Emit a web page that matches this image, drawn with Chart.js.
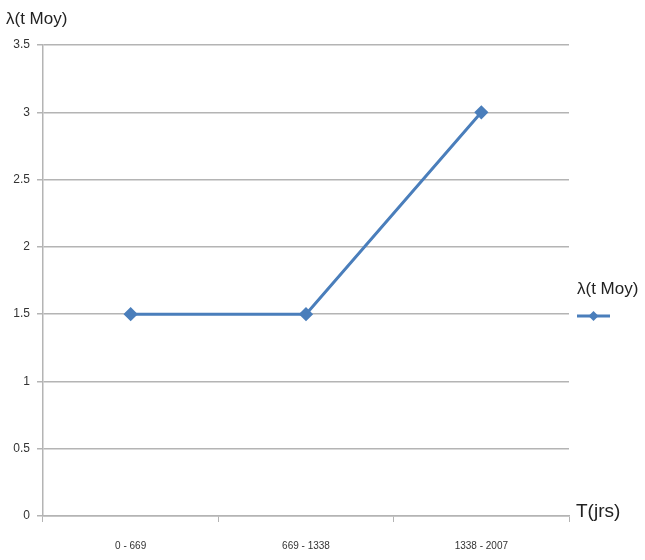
<!DOCTYPE html>
<html>
<head>
<meta charset="utf-8">
<script src="https://cdn.jsdelivr.net/npm/chart.js@4/dist/chart.umd.min.js"></script>
<style>
  html, body { margin: 0; padding: 0; background: #fff; }
  #wrap { width: 645px; height: 560px; }
</style>
</head>
<body>
<div id="wrap"><canvas id="chart" width="645" height="560"></canvas></div>
<script>
// ─── Data ─────────────────────────────────────────────────────────────────────
const periods = ['0 - 669', '669 - 1338', '1338 - 2007'];
const lambdaMoy = [1.5, 1.5, 3];
const seriesName = 'λ(t Moy)';
const yAxisTitle = 'λ(t Moy)';
const xAxisTitle = 'T(jrs)';

const lineColor = '#4a7ebb';
const gridColor = '#b4b4b4';

// ─── Axis titles and side legend ──────────────────────────────────────────────
const annotations = {
  id: 'annotations',
  afterDraw(chart) {
    const { ctx, chartArea } = chart;
    ctx.save();
    ctx.fillStyle = '#222';
    ctx.textBaseline = 'middle';
    ctx.textAlign = 'left';
    ctx.font = '17px "Liberation Sans Narrow", "Liberation Sans", sans-serif';
    ctx.fillText(yAxisTitle, 6, 19);
    ctx.fillText(seriesName, chartArea.right + 8, 289);
    ctx.font = '19px "Liberation Sans Narrow", "Liberation Sans", sans-serif';
    ctx.fillText(xAxisTitle, chartArea.right + 7, chartArea.bottom - 4);

    // legend sample: line with diamond marker
    const y = 316, x0 = chartArea.right + 8, x1 = chartArea.right + 41;
    ctx.strokeStyle = lineColor;
    ctx.lineWidth = 3;
    ctx.beginPath();
    ctx.moveTo(x0, y);
    ctx.lineTo(x1, y);
    ctx.stroke();
    const cx = (x0 + x1) / 2, r = 5;
    ctx.fillStyle = lineColor;
    ctx.beginPath();
    ctx.moveTo(cx, y - r);
    ctx.lineTo(cx + r, y);
    ctx.lineTo(cx, y + r);
    ctx.lineTo(cx - r, y);
    ctx.closePath();
    ctx.fill();
    ctx.restore();
  }
};

// ─── Chart ────────────────────────────────────────────────────────────────────
new Chart(document.getElementById('chart'), {
  type: 'line',
  data: {
    labels: periods,
    datasets: [{
      label: seriesName,
      data: lambdaMoy,
      borderColor: lineColor,
      backgroundColor: lineColor,
      borderWidth: 3,
      pointStyle: 'rectRot',
      pointRadius: 5,
      pointHoverRadius: 5,
      tension: 0
    }]
  },
  options: {
    responsive: false,
    animation: false,
    layout: { padding: { top: 45, right: 76, left: 0, bottom: 0 } },
    plugins: { legend: { display: false }, tooltip: { enabled: false } },
    scales: {
      x: {
        offset: true,
        afterFit: s => { s.height = 44; },
        border: { color: gridColor, width: 1.5 },
        grid: { offset: true, drawOnChartArea: false, color: gridColor, tickLength: 6 },
        ticks: {
          color: '#333',
          padding: 18,
          maxRotation: 0,
          font: { family: '"Liberation Sans Narrow", "Liberation Sans", sans-serif', size: 10 }
        }
      },
      y: {
        min: 0,
        max: 3.5,
        afterFit: s => { s.width = 43; },
        border: { color: gridColor, width: 1.5 },
        grid: { color: gridColor, lineWidth: 1.5, tickLength: 6 },
        ticks: {
          stepSize: 0.5,
          color: '#333',
          padding: 7,
          callback: v => String(v),
          font: { family: '"Liberation Sans", sans-serif', size: 12 }
        }
      }
    }
  },
  plugins: [annotations]
});
</script>
</body>
</html>
